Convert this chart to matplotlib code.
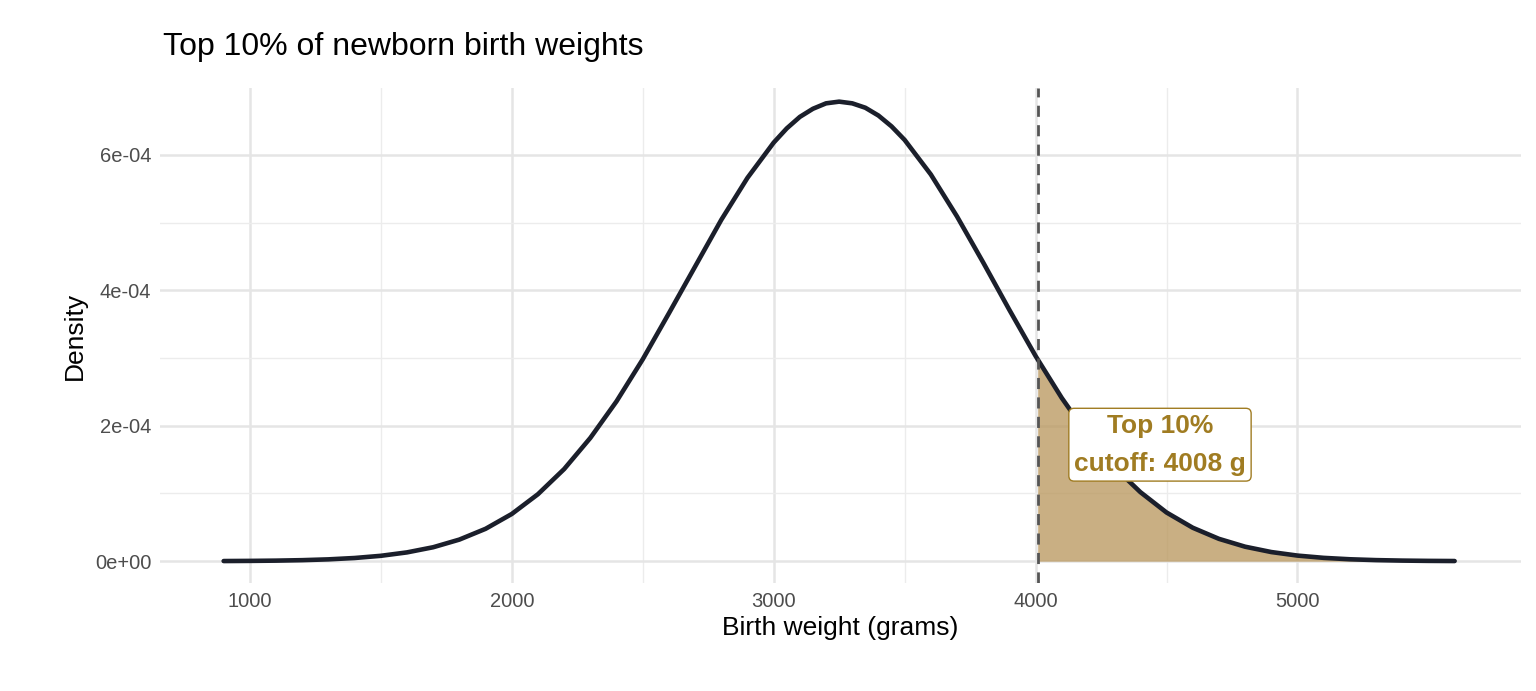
import matplotlib
matplotlib.use("Agg")
import matplotlib.pyplot as plt
import numpy as np

plt.rcParams["font.family"] = ["Liberation Sans", "DejaVu Sans"]

# birth weight (g) and density
weight = [900, 1000, 1100, 1200, 1300, 1400, 1500, 1600, 1700, 1800, 1900,
          2000, 2100, 2200, 2300, 2400, 2500, 2600, 2700, 2800, 2900,
          3000, 3050, 3100, 3150, 3200, 3250, 3300, 3350, 3400, 3450, 3500,
          3600, 3700, 3800, 3900,
          4000, 4008, 4100, 4200, 4300, 4400, 4500, 4600, 4700, 4800, 4900,
          5000, 5100, 5200, 5300, 5400, 5500, 5600]
density = [2.2e-7, 4.4e-7, 8.3e-7, 1.52e-6, 2.71e-6, 4.71e-6, 7.94e-6, 1.30e-5,
           2.06e-5, 3.19e-5, 4.78e-5, 6.97e-5, 9.89e-5, 1.36e-4, 1.82e-4,
           2.36e-4, 2.98e-4, 3.66e-4, 4.35e-4, 5.04e-4, 5.66e-4,
           6.18e-4, 6.39e-4, 6.56e-4, 6.68e-4, 6.76e-4, 6.785e-4, 6.76e-4,
           6.695e-4, 6.58e-4, 6.42e-4, 6.22e-4,
           5.71e-4, 5.09e-4, 4.41e-4, 3.71e-4,
           3.03e-4, 2.98e-4, 2.41e-4, 1.86e-4, 1.39e-4,
           1.02e-4, 7.19e-5, 4.94e-5, 3.30e-5, 2.14e-5, 1.35e-5, 8.27e-6,
           4.92e-6, 2.84e-6, 1.59e-6, 8.7e-7, 4.6e-7, 2.4e-7]
cutoff = 4008
label_lines = ["Top 10%", "cutoff: 4008 g"]

x = np.array(weight)
y = np.array(density)

fig = plt.figure(figsize=(15.36, 6.91), dpi=100)
ax = fig.add_axes([0.104, 0.156, 0.886, 0.717])

# grid (ggplot minimal look)
ax.set_xticks([1000, 2000, 3000, 4000, 5000])
ax.set_xticks([1500, 2500, 3500, 4500], minor=True)
ax.set_yticks([0, 2e-4, 4e-4, 6e-4])
ax.set_yticks([1e-4, 3e-4, 5e-4], minor=True)
ax.grid(True, which="major", color="#e5e5e5", lw=1.8)
ax.grid(True, which="minor", color="#ececec", lw=1.0)
ax.set_axisbelow(True)
for s in ax.spines.values():
    s.set_visible(False)
ax.tick_params(which="both", length=0, labelsize=14.5, colors="#4d4d4d", pad=6)
ax.set_yticklabels(["0e+00", "2e-04", "4e-04", "6e-04"])

mask = x >= cutoff
ax.fill_between(x[mask], 0, y[mask], color="#b8955a", alpha=0.75, lw=0)
ax.plot(x, y, color="#1b1f2b", lw=3.3, solid_capstyle="round",
        solid_joinstyle="round")
ax.axvline(cutoff, color="#555555", lw=2, ls=(0, (4, 3)))

ax.text(4475, 1.72e-4, "\n".join(label_lines), ha="center", va="center",
        fontsize=19, fontweight="bold", color="#a07c22", linespacing=1.75,
        bbox=dict(boxstyle="round,pad=0.2,rounding_size=0.2", fc="white",
                  ec="#a07c22", lw=1))

ax.set_xlim(656, 5852)
ax.set_ylim(-0.325e-4, 6.99e-4)
ax.set_xlabel("Birth weight (grams)", fontsize=19, labelpad=4)
ax.set_ylabel("Density", fontsize=19, labelpad=6)
fig.text(0.106, 0.92, "Top 10% of newborn birth weights", fontsize=23)

fig.savefig("out.png", dpi=100)
